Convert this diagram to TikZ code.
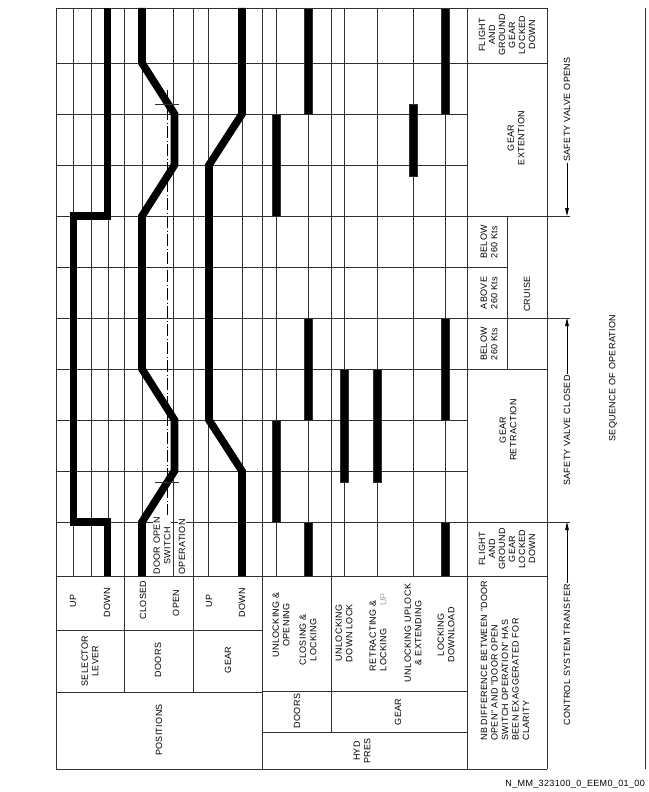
\documentclass[tikz,border=0pt]{standalone}
\usepackage{fontspec}
\setmainfont{Liberation Sans}[LetterSpace=4]
\usetikzlibrary{arrows.meta}

\definecolor{gridcolor}{HTML}{303030}
\definecolor{barcolor} {HTML}{000000}
\definecolor{fadecolor}{HTML}{A8A8A8}
\newcommand{\lblfont}{\fontsize{9}{10.5}\selectfont}
\newcommand{\phasefont}{\fontsize{9}{10}\selectfont}
\newcommand{\hydpulse}[3]{%
  \filldraw[hydbar] (#1-3.8,#2) rectangle (#1+3.8,#3);%
}
\tikzset{
  gridline/.style={draw=gridcolor, line width=0.9pt},
  trace/.style={draw=barcolor, line width=7.6pt, line join=miter},
  hydbar/.style={fill=barcolor, draw=gridcolor, line width=0.4pt},
  lbl/.style={rotate=90, font=\lblfont, align=center, inner sep=1pt},
  phase/.style={lbl, font=\phasefont},
  switchline/.style={draw=barcolor, line width=0.9pt,
    dash pattern=on 12pt off 2.5pt on 1pt off 2.5pt},
  flow/.style={draw=barcolor, line width=0.8pt,
    -{Triangle[length=8pt,width=3.6pt]}},
}

\begin{document}
\begin{tikzpicture}[x=1pt,y=-1pt]
\useasboundingbox (0,0) rectangle (648,792);

%% -- grid of the chart ------------------------------------------------
\foreach \t in {63,114,...,522}
  \draw[gridline] (56,\t) -- (467,\t);
\foreach \r in {73,91,108,142,173,208,242,276,308,344,377,413,445}
  \draw[gridline] (\r,8) -- (\r,576);

%% -- frame and header cells -------------------------------------------
\draw[gridline] (56,8) -- (547,8);
\draw[gridline] (56,576) -- (547,576);
\draw[gridline] (56,769) -- (547,769);
\foreach \r in {56,262,467,547}
  \draw[gridline] (\r,8) -- (\r,769);
\draw[gridline] (645,8) -- (645,769);
\foreach \r in {124,193}
  \draw[gridline] (\r,8) -- (\r,692);
\draw[gridline] (331,8) -- (331,732);
\draw[gridline] (56,630) -- (262,630);
\draw[gridline] (56,692) -- (262,692);
\draw[gridline] (262,691) -- (467,691);
\draw[gridline] (262,732) -- (467,732);

%% -- phase cells --------------------------------------------------------
\draw[gridline] (467,63) -- (547,63);
\draw[gridline] (467,369) -- (547,369);
\draw[gridline] (467,267) -- (507,267);
\draw[gridline] (507,216) -- (507,369);
\foreach \t in {216,318,522}
  \draw[gridline] (467,\t) -- (570,\t);

%% -- positions traces -------------------------------------------------
\draw[trace] (107.5,8) -- (107.5,216) -- (73.5,216) -- (73.5,522)
  -- (107.5,522) -- (107.5,576);
\draw[trace] (142,8) -- (142,63) -- (174.5,114) -- (174.5,165) -- (142,216)
  -- (142,369) -- (174.5,420) -- (174.5,471) -- (142,522) -- (142,576);
\draw[trace] (242,8) -- (242,114) -- (209,165) -- (209,420) -- (242,471)
  -- (242,576);

%% door open switch
\draw[switchline] (167,90) -- (167,515);
\draw[gridline] (155,104) -- (179,104);
\draw[gridline] (155,482) -- (179,482);

%% -- hyd pressure pulses ----------------------------------------------
\hydpulse{276}{114}{216}
\hydpulse{276}{420}{522}
\hydpulse{308}{8}{114}
\hydpulse{308}{318}{420}
\hydpulse{308}{522}{576}
\hydpulse{344}{369}{482}
\hydpulse{377}{369}{482}
\hydpulse{413}{104}{176}
\hydpulse{445}{8}{114}
\hydpulse{445}{318}{420}
\hydpulse{445}{522}{576}

%% -- header labels ----------------------------------------------------
\node[lbl] (posn)   at (159,730) {POSITIONS};
\node[lbl] (sellev) at (90,661)  {SELECTOR\\LEVER};
\node[lbl] (doorhd) at (158,660) {DOORS};
\node[lbl] (gearhd) at (228,660) {GEAR};
\node[lbl] (selup)  at (73,601)  {UP};
\node[lbl] (seldn)  at (107,603) {DOWN};
\node[lbl] (drcl)   at (143,600) {CLOSED};
\node[lbl] (drop)   at (176,603) {OPEN};
\node[lbl] (grup)   at (209,601) {UP};
\node[lbl] (grdn)   at (242,603) {DOWN};

\node[lbl] (hydpr)   at (362,751) {HYD\\PRES};
\node[lbl] (hyddoor) at (297,711) {DOORS};
\node[lbl] (hydgear) at (398,712) {GEAR};
\node[lbl] (unlop)   at (281,625) {UNLOCKING \&\\OPENING};
\node[lbl] (cllock)  at (308,640) {CLOSING \&\\LOCKING};
\node[lbl] (unldl)   at (344,633) {UNLOCKING\\DOWN LOCK};
\node[lbl, align=left, text width=78pt] (retr) at (378,632)
  {RETRACTING \&\\LOCKING\hspace{0pt plus 1filll}\textcolor{fadecolor}{UP}};
\node[lbl] (unlup)   at (413,633) {UNLOCKING UPLOCK\\\& EXTENDING};
\node[lbl] (lckdl)   at (446,635) {LOCKING\\DOWNLOAD};

\node[lbl, align=left, anchor=west] (nbnote) at (505,742)
  {NB DIFFERENCE BETWEEN "DOOR\\OPEN" AND "DOOR OPEN\\SWITCH OPERATION" HAS\\BEEN EXAGGERATED FOR\\CLARITY};

\node[lbl, fill=white] (dosw) at (162,546) {DOOR OPEN\\SWITCH};
\node[lbl, fill=white] (doop) at (182,547) {OPERATION};

%% -- phases -----------------------------------------------------------
\node[phase] (fgld1) at (507,35)  {FLIGHT\\AND\\GROUND\\GEAR\\LOCKED\\DOWN};
\node[phase] (fgld2) at (507,549) {FLIGHT\\AND\\GROUND\\GEAR\\LOCKED\\DOWN};
\node[lbl] (gext)   at (516,138) {GEAR\\EXTENTION};
\node[lbl] (gretr)  at (508,430) {GEAR\\RETRACTION};
\node[lbl] (cruise) at (527,294) {CRUISE};
\node[lbl] (blw1)   at (489,242) {BELOW\\260 Kts};
\node[lbl] (abv)    at (489,293) {ABOVE\\260 Kts};
\node[lbl] (blw2)   at (489,344) {BELOW\\260 Kts};

%% -- sequence notes ---------------------------------------------------
\coordinate (svo)  at (567,216);
\coordinate (svc)  at (567,318);
\coordinate (cstx) at (567,522);
\node[lbl, anchor=west] (svopen)   at (567,163) {SAFETY VALVE OPENS};
\node[lbl, anchor=west] (svclosed) at (567,487) {SAFETY VALVE CLOSED};
\node[lbl, anchor=west] (cst)      at (567,727) {CONTROL SYSTEM TRANSFER};
\draw[flow] (svopen.west) -- (svo);
\draw[flow] (svclosed.east) -- (svc);
\draw[flow] (cst.east) -- (cstx);

\node[lbl] (seqop) at (613,378) {SEQUENCE OF OPERATION};
\node[anchor=east, font=\lblfont, inner sep=0pt] (dwgref) at (645,784)
  {N\_MM\_323100\_0\_EEM0\_01\_00};
\end{tikzpicture}
\end{document}
